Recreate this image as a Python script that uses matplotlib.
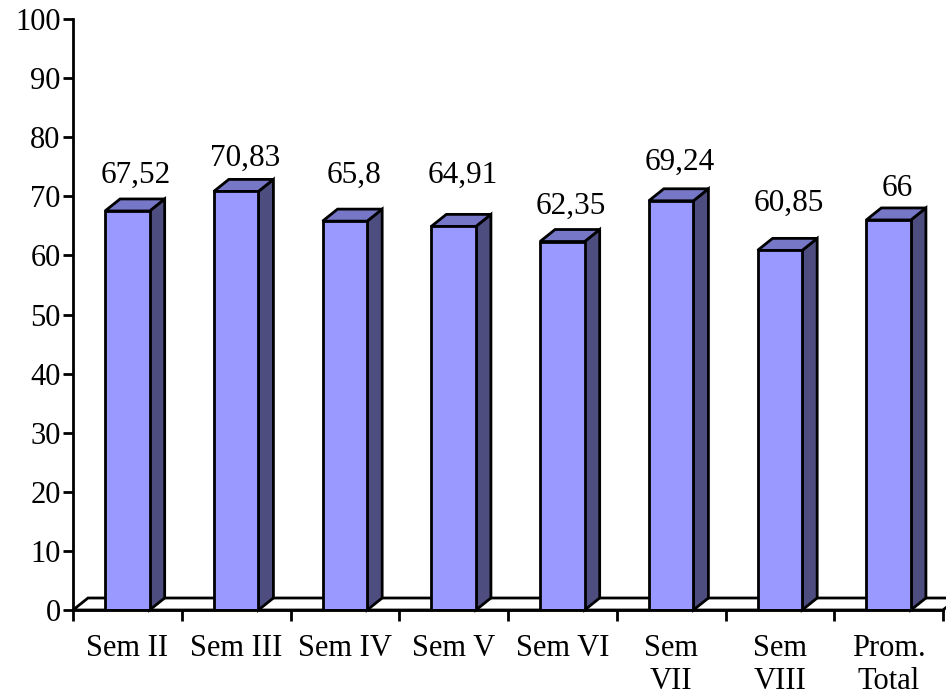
import matplotlib
matplotlib.use('Agg')
import matplotlib.pyplot as plt
from matplotlib.patches import Polygon

plt.rcParams['font.family'] = ['Liberation Serif', 'DejaVu Serif']

# datos
categorias = ['Sem II', 'Sem III', 'Sem IV', 'Sem V', 'Sem VI', 'Sem\nVII', 'Sem\nVIII', 'Prom.\nTotal']
valores = [67.52, 70.83, 65.8, 64.91, 62.35, 69.24, 60.85, 66]
etiquetas = ['67,52', '70,83', '65,8', '64,91', '62,35', '69,24', '60,85', '66']
# altura de la base de cada etiqueta (como en el original)
etiqueta_y = [72.3, 75.1, 72.3, 72.3, 67.0, 74.4, 67.5, 70.0]

fig = plt.figure(figsize=(9.46, 6.98), dpi=100)
ax = fig.add_axes([73 / 946, 1 - 610 / 698, 870 / 946, 591 / 698])
ax.set_xlim(0, 8)
ax.set_ylim(0, 100)

# profundidad 3D en unidades de datos
dx = 15 / 108.75
dy = 12 / 5.91
ancho = 0.41

# piso
piso = Polygon([(0, 0), (8, 0), (8 + dx, dy), (dx, dy)], closed=True,
               facecolor='white', edgecolor='black', linewidth=2,
               clip_on=False, zorder=1)
ax.add_patch(piso)

x = [i + 0.5 for i in range(len(valores))]
ax.bar(x, valores, width=ancho, color='#9999ff', edgecolor='black',
       linewidth=2, zorder=3)

for xi, v in zip(x, valores):
    x0 = xi - ancho / 2
    x1 = xi + ancho / 2
    lado = Polygon([(x1, 0), (x1 + dx, dy), (x1 + dx, v + dy), (x1, v)],
                   closed=True, facecolor='#4d4d80', edgecolor='black',
                   linewidth=2, zorder=2, clip_on=False)
    tapa = Polygon([(x0, v), (x1, v), (x1 + dx, v + dy), (x0 + dx, v + dy)],
                   closed=True, facecolor='#7777c8', edgecolor='black',
                   linewidth=2, zorder=2, clip_on=False)
    ax.add_patch(lado)
    ax.add_patch(tapa)

for xi, t, ty in zip(x, etiquetas, etiqueta_y):
    ax.text(xi + 0.08, ty, t, ha='center', va='baseline', fontsize=22.5)

# ejes
for s in ['top', 'right']:
    ax.spines[s].set_visible(False)
ax.spines['left'].set_linewidth(2)
ax.spines['bottom'].set_linewidth(2)
ax.spines['bottom'].set_zorder(4)

ax.set_yticks(range(0, 101, 10))
ax.tick_params(axis='y', labelsize=22, width=2, length=7, direction='out', pad=2)
ax.set_xticks(range(0, 9))
ax.set_xticklabels([])
ax.set_xticks(x, minor=True)
ax.set_xticklabels(categorias, minor=True, fontsize=22, linespacing=1.2)
ax.tick_params(axis='x', which='minor', length=0, pad=17)
ax.tick_params(axis='x', which='major', width=2, length=8, direction='out')

fig.savefig('out.png', dpi=100)
